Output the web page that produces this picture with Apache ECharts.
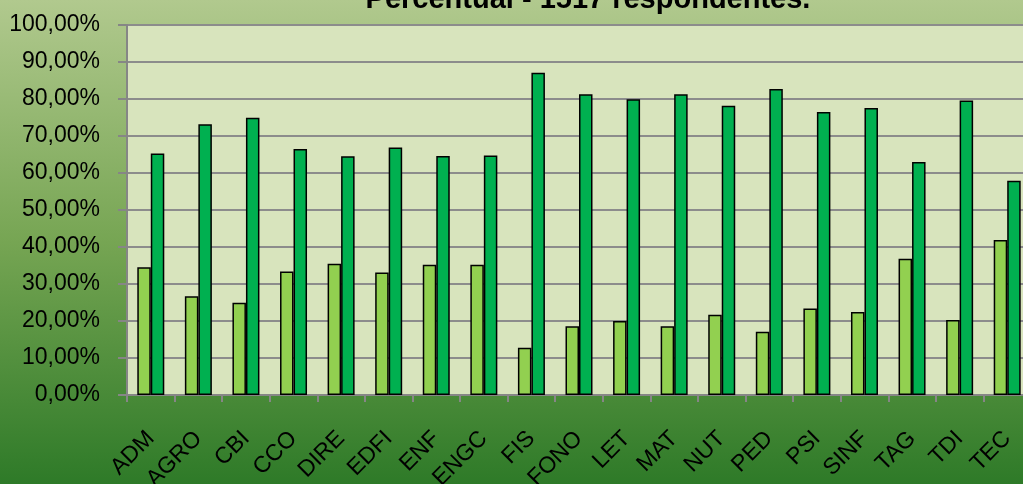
<!DOCTYPE html>
<html>
<head>
<meta charset="utf-8">
<script src="https://cdn.jsdelivr.net/npm/echarts@6/dist/echarts.min.js"></script>
<style>
  html, body { margin: 0; padding: 0; }
  #main { width: 1023px; height: 484px; }
</style>
</head>
<body>
<div id="main"></div>
<script>
// cursos
const cursos = ["ADM", "AGRO", "CBI", "CCO", "DIRE", "EDFI", "ENF", "ENGC", "FIS", "FONO",
  "LET", "MAT", "NUT", "PED", "PSI", "SINF", "TAG", "TDI", "TEC"];
// percentuais
const serieClara = [34.5, 26.7, 24.9, 33.4, 35.5, 33.1, 35.2, 35.2, 12.8, 18.6,
  20.0, 18.6, 21.7, 17.1, 23.4, 22.4, 36.8, 20.3, 41.9];
const serieEscura = [65.3, 73.2, 74.9, 66.5, 64.5, 66.9, 64.6, 64.7, 87.1, 81.3,
  79.9, 81.3, 78.2, 82.7, 76.5, 77.6, 63.0, 79.6, 57.9];

const fonte = "Liberation Sans";
const myChart = echarts.init(document.getElementById("main"));

const option = {
  backgroundColor: {
    type: "linear", x: 0, y: 0, x2: 0, y2: 1,
    colorStops: [
      { offset: 0, color: "#b1c98e" },
      { offset: 0.5, color: "#76a553" },
      { offset: 1, color: "#2e7a28" }
    ]
  },
  animation: false,
  title: {
    text: "Percentual - 1517 respondentes.",
    left: 583,
    textAlign: "center",
    top: -20,
    textStyle: { color: "#000", fontSize: 29, fontWeight: "bold", fontFamily: fonte }
  },
  grid: {
    left: 127,
    top: 25,
    width: 904, // o grafico original passa um pouco da borda direita
    height: 370,
    containLabel: false,
    outerBoundsMode: "none",
    show: true,
    backgroundColor: "#d8e4bd",
    borderWidth: 0
  },
  xAxis: {
    type: "category",
    data: cursos,
    axisLine: { lineStyle: { color: "#868686", width: 2 } },
    axisTick: { show: true, length: 7, lineStyle: { color: "#868686", width: 2 } },
    axisLabel: {
      rotate: 45,
      margin: 40,
      interval: 0,
      color: "#000",
      fontSize: 23,
      fontFamily: fonte
    }
  },
  yAxis: {
    type: "value",
    min: 0,
    max: 100,
    interval: 10,
    axisLine: { show: true, lineStyle: { color: "#868686", width: 2 } },
    axisTick: { show: true, length: 9, lineStyle: { color: "#868686", width: 2 } },
    axisLabel: {
      margin: 27,
      color: "#000",
      fontSize: 23,
      fontFamily: fonte,
      formatter: v => v.toFixed(2).replace(".", ",") + "%"
    },
    splitLine: { show: true, lineStyle: { color: "#8c8c8c", width: 2 } }
  },
  series: [
    {
      type: "bar",
      data: serieClara,
      barWidth: 13.5,
      barGap: "0%",
      itemStyle: { color: "#92d050", borderColor: "#000", borderWidth: 1.5 }
    },
    {
      type: "bar",
      data: serieEscura,
      barWidth: 13.5,
      itemStyle: { color: "#00b050", borderColor: "#000", borderWidth: 1.5 }
    }
  ]
};

option && myChart.setOption(option);
</script>
</body>
</html>
